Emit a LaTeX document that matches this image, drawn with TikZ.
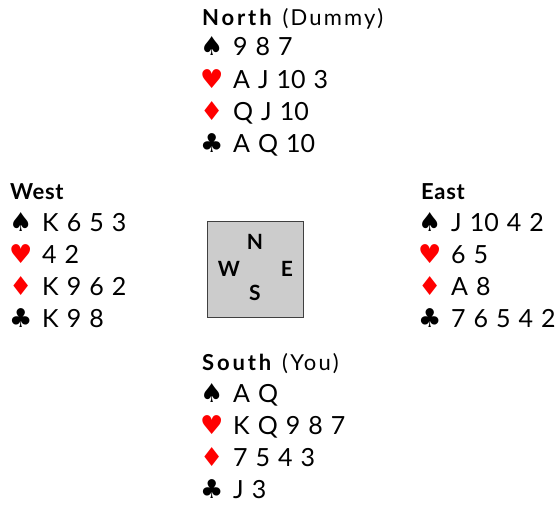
\documentclass[tikz,border=0pt]{standalone}
\usepackage{fontspec}
\setmainfont{Lato}[WordSpace=1.25]
\newfontfamily\suitfont{DejaVu Sans}
\definecolor{suitred}{HTML}{FF0000}
\definecolor{boxgray}{HTML}{CCCCCC}
\tikzset{
  cardtext/.style={anchor=base west, inner sep=0pt, font=\fontsize{25}{25}\selectfont},
  suitsym/.style={anchor=base west, inner sep=0pt, font=\suitfont\fontsize{26}{26}\selectfont},
  titletext/.style={anchor=base west, inner sep=0pt, font=\fontsize{22}{22}\selectfont},
  compass/.style={inner sep=0pt, font=\bfseries\fontsize{21}{21}\selectfont},
  tablebox/.style={draw=black!75, line width=0.8pt, fill=boxgray, minimum size=96pt, inner sep=0pt}
}
\newcommand\mkhand[7]{%
  \node[suitsym] (#1sp) at (#2pt,-#3pt) {♠};
  \node[cardtext] (#1spc) at (#2pt+33pt,-#3pt) {#4};
  \node[suitsym, text=suitred] (#1he) at (#2pt,-#3pt-32.3pt) {♥};
  \node[cardtext] (#1hec) at (#2pt+33pt,-#3pt-32.3pt) {#5};
  \node[suitsym, text=suitred] (#1di) at (#2pt,-#3pt-64.6pt) {♦};
  \node[cardtext] (#1dic) at (#2pt+33pt,-#3pt-64.6pt) {#6};
  \node[suitsym] (#1cl) at (#2pt,-#3pt-96.9pt) {♣};
  \node[cardtext] (#1clc) at (#2pt+33pt,-#3pt-96.9pt) {#7};
}
\begin{document}
\begin{tikzpicture}[x=1pt,y=1pt]
\useasboundingbox (0,0) rectangle (559,-505);
% North
\node[titletext] (ntitle) at (202,-26) {\textbf{\addfontfeatures{LetterSpace=13}North}\hspace{8pt}{\addfontfeatures{LetterSpace=10}(Dummy)}};
\mkhand{n}{200}{56}{9 8 7}{A J 10 3}{Q J 10}{A Q 10}
% West
\node[titletext] (wtitle) at (10,-200) {\textbf{\addfontfeatures{LetterSpace=3}West}};
\mkhand{w}{9}{231}{K 6 5 3}{4 2}{K 9 6 2}{K 9 8}
% East
\node[titletext] (etitle) at (421,-200) {\textbf{\addfontfeatures{LetterSpace=3}East}};
\mkhand{e}{418}{231}{J 10 4 2}{6 5}{A 8}{7 6 5 4 2}
% South
\node[titletext] (stitle) at (202,-370) {\textbf{\addfontfeatures{LetterSpace=13}South}\hspace{8pt}{\addfontfeatures{LetterSpace=10}(You)}};
\mkhand{s}{200}{402}{A Q}{K Q 9 8 7}{7 5 4 3}{J 3}
% table
\node[tablebox] (table) at (255,-269.5) {};
\node[compass] (cn) at (255,-242) {N};
\node[compass] (cw) at (229,-269) {W};
\node[compass] (ce) at (287,-269) {E};
\node[compass] (cs) at (255,-293) {S};
\end{tikzpicture}
\end{document}
